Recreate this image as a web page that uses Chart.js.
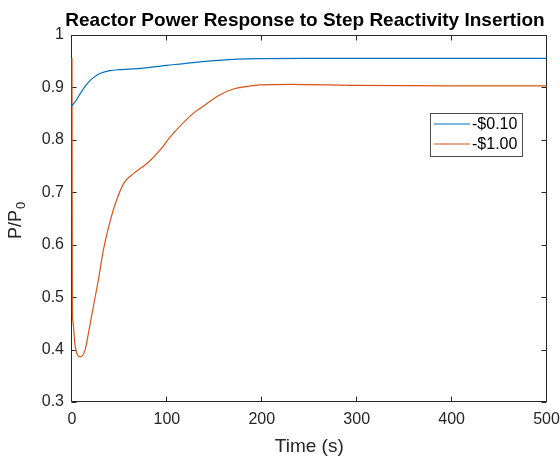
<!DOCTYPE html>
<html>
<head>
<meta charset="utf-8">
<script src="https://cdn.jsdelivr.net/npm/chart.js@4/dist/chart.umd.min.js"></script>
<style>
html,body{margin:0;padding:0;background:#fff;}
#wrap{width:560px;height:459px;}
</style>
</head>
<body>
<div id="wrap"><canvas id="c" width="560" height="459"></canvas></div>
<script>
// ---- data ----
const titleText = "Reactor Power Response to Step Reactivity Insertion";
const xLabel = "Time (s)";
const yLabelMain = "P/P";
const yLabelSub = "0";
const seriesNames = ["-$0.10", "-$1.00"];
const seriesColors = ["#0072BD", "#D95319"];

const timeA = [0, 5, 10, 15, 20, 25, 30, 40, 50, 60, 75, 100, 125, 150, 175, 200, 250, 300, 400, 500];
const powerA = [0.865, 0.877, 0.892, 0.905, 0.915, 0.922, 0.927, 0.932, 0.934, 0.935, 0.937, 0.942, 0.947, 0.951, 0.954, 0.955, 0.9555, 0.9555, 0.9555, 0.9555];

const timeB = [0, 0.4, 0.8, 3.4, 8.6, 13.9, 17.4, 22.6, 27.9, 33.2, 40.5, 45.8, 54.5, 65, 79, 93, 103.7, 128, 135, 156, 170, 185, 198, 230, 300, 400, 500];
const powerB = [0.956, 0.47, 0.455, 0.406, 0.386, 0.400, 0.432, 0.483, 0.534, 0.591, 0.647, 0.679, 0.717, 0.736, 0.755, 0.781, 0.806, 0.851, 0.860, 0.886, 0.897, 0.902, 0.905, 0.906, 0.904, 0.903, 0.903];

const xTicks = [0, 100, 200, 300, 400, 500];
const yTicks = [0.3, 0.4, 0.5, 0.6, 0.7, 0.8, 0.9, 1];

const FONT = "'Liberation Sans', Arial, Helvetica, sans-serif";
const AXC = "#262626";

function pts(t, v) { return t.map((x, i) => ({x: x, y: v[i]})); }

const matlabPlugin = {
  id: 'matlab',
  beforeDatasetsDraw(chart) {
    const ctx = chart.ctx;
    const a = chart.chartArea;
    const xs = chart.scales.x, ys = chart.scales.y;
    ctx.save();
    ctx.strokeStyle = AXC;
    ctx.lineWidth = 1;
    const L = Math.round(a.left) - 0.5, R = Math.round(a.right) - 0.5;
    const T = Math.round(a.top) + 0.5, B = Math.round(a.bottom) - 0.5;
    ctx.beginPath();
    ctx.rect(L, T, R - L, B - T);
    ctx.stroke();
    const tl = 5;
    ctx.beginPath();
    xTicks.forEach(v => {
      const px = Math.round(xs.getPixelForValue(v)) - 0.5;
      ctx.moveTo(px, B); ctx.lineTo(px, B - tl);
      ctx.moveTo(px, T); ctx.lineTo(px, T + tl);
    });
    yTicks.forEach(v => {
      const py = Math.round(ys.getPixelForValue(v)) + 0.5;
      ctx.moveTo(L, py); ctx.lineTo(L + tl, py);
      ctx.moveTo(R, py); ctx.lineTo(R - tl, py);
    });
    ctx.stroke();
    ctx.restore();
  },
  afterDraw(chart) {
    const ctx = chart.ctx;
    ctx.save();
    // title
    ctx.fillStyle = "#000";
    ctx.font = "bold 19px " + FONT;
    ctx.textAlign = "center";
    ctx.textBaseline = "alphabetic";
    ctx.fillText(titleText, 305, 26);

    // y label with subscript
    ctx.save();
    ctx.translate(21, 221);
    ctx.rotate(-Math.PI / 2);
    ctx.fillStyle = AXC;
    ctx.font = "18px " + FONT;
    ctx.textAlign = "left";
    const wMain = ctx.measureText(yLabelMain).width;
    ctx.font = "13px " + FONT;
    const wSub = ctx.measureText(yLabelSub).width;
    const start = -(wMain + wSub) / 2;
    ctx.font = "18px " + FONT;
    ctx.fillText(yLabelMain, start, 0);
    ctx.font = "13px " + FONT;
    ctx.fillText(yLabelSub, start + wMain + 1, 4);
    ctx.restore();

    // legend
    const bx = 430.5, by = 113.5, bw = 92, bh = 43;
    ctx.fillStyle = "#fff";
    ctx.fillRect(bx, by, bw, bh);
    ctx.strokeStyle = "#4a4a4a";
    ctx.lineWidth = 1;
    ctx.strokeRect(bx, by, bw, bh);
    chart.data.datasets.forEach((ds, i) => {
      const yy = 124 + i * 20;
      ctx.strokeStyle = ds.borderColor;
      ctx.lineWidth = 1.2;
      ctx.beginPath();
      ctx.moveTo(434, yy);
      ctx.lineTo(470, yy);
      ctx.stroke();
      ctx.fillStyle = "#000";
      ctx.font = "16px " + FONT;
      ctx.textAlign = "left";
      ctx.textBaseline = "middle";
      ctx.fillText(ds.label, 472, yy + 1);
    });
    ctx.restore();
  }
};

new Chart(document.getElementById('c'), {
  type: 'line',
  data: {
    datasets: [
      {label: seriesNames[0], data: pts(timeA, powerA), borderColor: seriesColors[0], borderWidth: 1.2, pointRadius: 0, cubicInterpolationMode: 'monotone', fill: false, clip: 3},
      {label: seriesNames[1], data: pts(timeB, powerB), borderColor: seriesColors[1], borderWidth: 1.2, pointRadius: 0, cubicInterpolationMode: 'monotone', fill: false, clip: 3}
    ]
  },
  options: {
    responsive: false,
    animation: false,
    events: [],
    layout: {padding: {top: 35, right: 13.5, left: 0, bottom: 0}},
    plugins: {legend: {display: false}, title: {display: false}, tooltip: {enabled: false}},
    scales: {
      x: {
        type: 'linear', min: 0, max: 500,
        afterBuildTicks: s => { s.ticks = xTicks.map(v => ({value: v})); },
        afterFit: s => { s.height = 57; s.paddingLeft = 0; s.paddingRight = 0; },
        grid: {display: false, drawTicks: false},
        border: {display: false},
        ticks: {color: AXC, font: {family: FONT, size: 16}, padding: 8, maxRotation: 0},
        title: {display: true, text: xLabel, color: AXC, font: {family: FONT, size: 19}, padding: {top: 0, bottom: 1}}
      },
      y: {
        type: 'linear', min: 0.3, max: 1,
        afterBuildTicks: s => { s.ticks = yTicks.map(v => ({value: v})); },
        afterFit: s => { s.width = 72; s.paddingTop = 0; s.paddingBottom = 0; },
        grid: {display: false, drawTicks: false},
        border: {display: false},
        ticks: {color: AXC, font: {family: FONT, size: 16}, padding: 8, callback: v => String(+v.toFixed(1))}
      }
    }
  },
  plugins: [matlabPlugin]
});
</script>
</body>
</html>
